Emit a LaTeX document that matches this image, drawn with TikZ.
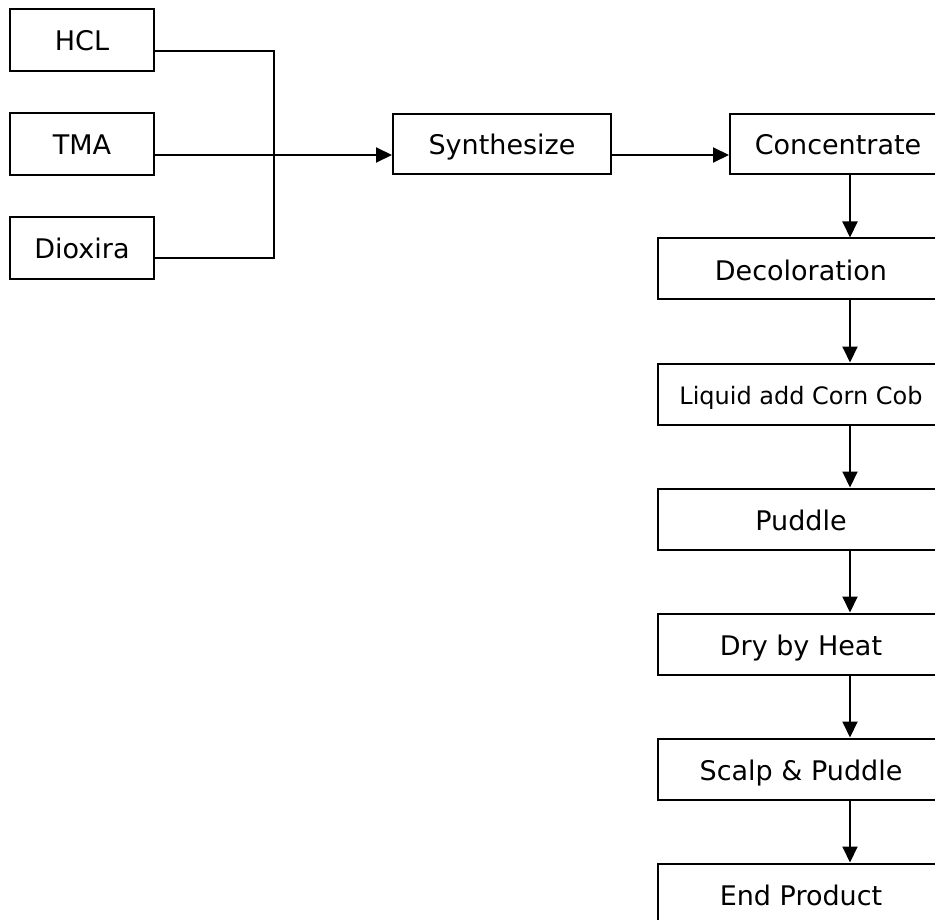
\documentclass[tikz,border=0pt]{standalone}
\usepackage{fontspec}
\setmainfont{DejaVu Sans}
\usetikzlibrary{shapes.geometric, arrows.meta, calc, positioning}
\tikzstyle{source} = [rectangle, line width=2pt, minimum width=144pt, minimum height=62pt, text height=22pt, text depth=0pt, text centered, draw=black, font=\fontsize{27pt}{32pt}\selectfont]
\tikzstyle{process} = [rectangle, line width=2pt, minimum width=218pt, minimum height=60pt, text height=22pt, text depth=0pt, text centered, draw=black, font=\fontsize{27pt}{32pt}\selectfont]
\tikzstyle{stage} = [process, minimum width=286pt, minimum height=61pt]
\tikzstyle{line} = [line width=2pt]
\tikzstyle{arrow} = [line width=2pt, -{Triangle[length=16pt, width=15pt]}]

\begin{document}
\begin{tikzpicture}[x=1pt, y=-1pt, node distance = 40pt, auto]
		\path [use as bounding box, clip] (0,0) rectangle (935,920);
		\node (HCL) [source] at (82,40) {HCL};
		\node (TMA) [source, below = of HCL] {TMA};
		\node (Dioxira) [source, below = of TMA] {Dioxira};
		\node (Synthesize) [process, right = 237pt of TMA] {Synthesize};
		\node (Concentrate) [process, minimum width=216pt, right = 117pt of Synthesize] {Concentrate};
		\node (Decoloration) [stage] at (801,269) {Decoloration};
		\node (Liquid) [stage, below = 62pt of Decoloration, text height=20pt, font=\fontsize{24pt}{29pt}\selectfont] {Liquid add Corn Cob};
		\node (Puddle) [stage, below = 62pt of Liquid] {Puddle};
		\node (Dry) [stage, below = 62pt of Puddle] {Dry by Heat};
		\node (Scalp) [stage, below = 62pt of Dry] {Scalp \& Puddle};
		\node (End) [stage, below = 62pt of Scalp] {End Product};
		
		\coordinate (Junction) at (274,155);
		\coordinate (Axis) at (850,0);
		
		\draw [line] ([yshift=-11pt]HCL.east) -| (Junction);
		\draw [line] ([yshift=-10pt]Dioxira.east) -| (Junction);
		\draw [arrow] ([yshift=-11pt]TMA.east) -- ([yshift=-11pt]Synthesize.west);
		\draw [arrow] ([yshift=-11pt]Synthesize.east) -- ([yshift=-11pt]Concentrate.west);
		\draw [arrow] (Concentrate.south -| Axis) -- (Decoloration.north -| Axis);
		\draw [arrow] (Decoloration.south -| Axis) -- (Liquid.north -| Axis);
		\draw [arrow] (Liquid.south -| Axis) -- (Puddle.north -| Axis);
		\draw [arrow] (Puddle.south -| Axis) -- (Dry.north -| Axis);
		\draw [arrow] (Dry.south -| Axis) -- (Scalp.north -| Axis);
		\draw [arrow] (Scalp.south -| Axis) -- (End.north -| Axis);
		\end{tikzpicture}
\end{document}
